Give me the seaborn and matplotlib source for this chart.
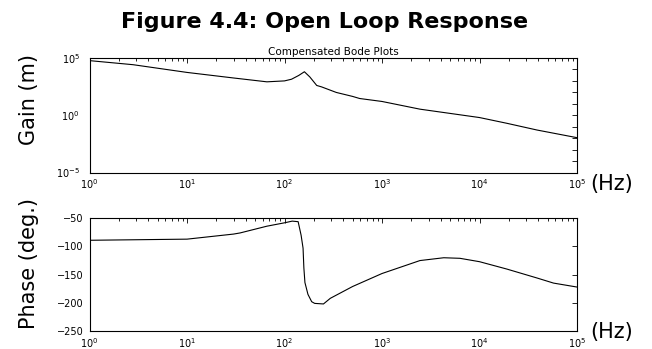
import numpy as np
import pandas as pd
import matplotlib
matplotlib.use("Agg")
import matplotlib.pyplot as plt
import matplotlib.ticker as mticker
import seaborn as sns

# Gain data (Hz, linear gain)
gain_freq = [1, 2.8, 10, 30, 66, 100, 118, 140, 160, 182, 214, 240, 340, 500, 590, 1000, 2450, 10000, 19000, 39000, 100000]
gain_vals = [5.9e4, 2.6e4, 5.5e3, 1.8e3, 830, 1.0e3, 1.4e3, 3.0e3, 6.3e3, 2.2e3, 400, 300, 98, 44, 29, 16, 3.4, 0.63, 0.2, 0.051, 0.011]

# Phase data (Hz, degrees)
phase_freq = [1, 10, 30, 35, 66, 100, 120, 138, 148, 155, 158, 162, 174, 190, 204, 251, 295, 500, 1000, 2450, 4300, 6300, 10000, 19000, 39000, 57500, 100000]
phase_vals = [-89, -87, -78, -76, -64, -58, -55, -56, -80, -103, -138, -164, -185, -198, -201, -202, -192, -171, -148, -125, -120, -121, -127, -140, -156, -165, -172]

fig_title = "Figure 4.4: Open Loop Response"
sub_title = "Compensated Bode Plots"
gain_label = "Gain (m)"
phase_label = "Phase (deg.)"
hz_label = "(Hz)"

sns.set_theme(style="white")
plt.rcParams['font.family'] = ['DejaVu Sans']
plt.rcParams['text.color'] = 'black'
plt.rcParams['axes.labelcolor'] = 'black'
plt.rcParams['mathtext.fontset'] = 'dejavusans'

fig = plt.figure(figsize=(6.52, 3.49), dpi=100)
W, H = 652, 349
ax1 = fig.add_axes([89.5 / W, 1 - 172.5 / H, (577 - 89.5) / W, (172.5 - 58) / H])
ax2 = fig.add_axes([89.5 / W, 1 - 331 / H, (577 - 89.5) / W, (331 - 218.3) / H])

gdf = pd.DataFrame({"freq": gain_freq, "gain": gain_vals})
pdf = pd.DataFrame({"freq": phase_freq, "phase": phase_vals})

sns.lineplot(data=gdf, x="freq", y="gain", ax=ax1, color="black", linewidth=0.8)
sns.lineplot(data=pdf, x="freq", y="phase", ax=ax2, color="black", linewidth=0.8)

for ax in (ax1, ax2):
    ax.set_xscale("log")
    ax.set_xlim(1, 1e5)
    ax.set_xlabel("")
    for s in ax.spines.values():
        s.set_color("black")
        s.set_linewidth(0.8)
    ax.tick_params(which="both", direction="in", top=True, right=True,
                   labelsize=7, colors="black", labelcolor="black", width=0.6)
    ax.tick_params(which="major", length=3.5)
    ax.tick_params(which="minor", length=2)
    ax.xaxis.set_major_locator(mticker.LogLocator(base=10, numticks=10))
    ax.xaxis.set_minor_locator(mticker.LogLocator(base=10, subs=np.arange(2, 10), numticks=20))
    ax.xaxis.set_minor_formatter(mticker.NullFormatter())

ax1.set_yscale("log")
ax1.set_ylim(1e-5, 1e5)
ax1.set_yticks([1e-5, 1e0, 1e5])
ax1.yaxis.set_major_formatter(mticker.LogFormatterSciNotation())
ax1.yaxis.set_minor_locator(mticker.FixedLocator([10.0 ** k for k in range(-4, 5)]))
ax1.yaxis.set_minor_formatter(mticker.NullFormatter())
ax1.tick_params(axis="y", which="minor", length=3.5)
ax1.tick_params(axis="y", which="major", pad=7)
ax1.set_ylabel(gain_label, fontsize=15, color="black")
ax1.yaxis.set_label_coords(-0.104, 0.64)
ax1.set_title(sub_title, fontsize=7.5, pad=2, color="black")

ax2.set_ylim(-250, -50)
ax2.set_yticks([-250, -200, -150, -100, -50])
ax2.tick_params(axis="y", which="major", pad=4)
ax2.set_ylabel(phase_label, fontsize=15, color="black")
ax2.yaxis.set_label_coords(-0.104, 0.60)

fig.text(325 / W, 1 - 28 / H, fig_title, ha="center", va="baseline", fontsize=16, fontweight="bold", color="black")
fig.text(590 / W, 1 - 184 / H, hz_label, ha="left", va="center", fontsize=15, color="black")
fig.text(590 / W, 1 - 332 / H, hz_label, ha="left", va="center", fontsize=15, color="black")

fig.savefig("out.png", dpi=100)
